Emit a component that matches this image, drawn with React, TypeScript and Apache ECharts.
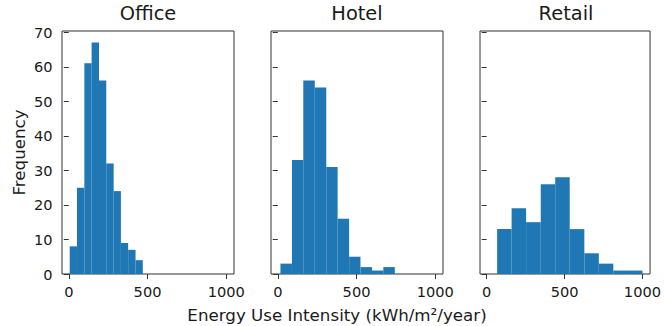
import React, { useEffect, useRef } from "react";
import * as echarts from "echarts";

const panels = ["Office", "Hotel", "Retail"];
const officeEdges = [6, 52, 99, 145, 192, 238, 285, 331, 377, 424, 470];
const officeCounts = [8, 25, 61, 67, 56, 32, 24, 9, 7, 4];
const hotelEdges = [17, 90, 162, 235, 308, 380, 453, 525, 598, 670, 743];
const hotelCounts = [3, 33, 56, 54, 31, 16, 5, 2, 1, 2];
const retailEdges = [67, 160, 253, 347, 440, 533, 627, 720, 813, 907, 1000];
const retailCounts = [13, 19, 15, 26, 28, 13, 6, 3, 1, 1];
const xTicks = [0, 500, 1000];
const yTicks = [0, 10, 20, 30, 40, 50, 60, 70];
const xLabel = "Energy Use Intensity (kWh/m²/year)";
const yLabel = "Frequency";

const FONT = "DejaVu Sans";
const TXT = "#1a1a1a";
const SPINE = "#333";
const BAR = "#1f77b4";

export default function App() {
  const ref = useRef<HTMLDivElement>(null);
  useEffect(() => {
    if (!ref.current) return;
    const chart = echarts.init(ref.current, null, { renderer: "svg" });
    const edgesList = [officeEdges, hotelEdges, retailEdges];
    const countsList = [officeCounts, hotelCounts, retailCounts];
    const lefts = [62, 271, 480];
    const gw = 172;
    const top = 31;
    const gh = 243;

    const grids = lefts.map((l) => ({
      left: l,
      top,
      width: gw,
      height: gh,
      show: true,
      borderColor: SPINE,
      borderWidth: 1,
      backgroundColor: "transparent",
      containLabel: false,
    }));

    const xAxes = lefts.map((_, i) => ({
      type: "value",
      gridIndex: i,
      min: -43,
      max: 1049,
      axisLine: { show: false },
      splitLine: { show: false },
      axisTick: {
        show: true,
        length: 5,
        customValues: xTicks,
        lineStyle: { color: SPINE, width: 1 },
      },
      axisLabel: {
        customValues: xTicks,
        formatter: (v: number) => String(v),
        margin: 9.5,
        fontFamily: FONT,
        fontSize: 14.6,
        color: TXT,
      },
    }));

    const yAxes = lefts.map((_, i) => ({
      type: "value",
      gridIndex: i,
      min: 0,
      max: 70.35,
      axisLine: { show: false },
      splitLine: { show: false },
      axisTick: {
        show: true,
        length: 5,
        customValues: yTicks,
        lineStyle: { color: SPINE, width: 1 },
      },
      axisLabel: {
        show: i === 0,
        customValues: yTicks,
        formatter: (v: number) => String(v),
        margin: 9.5,
        fontFamily: FONT,
        fontSize: 14.6,
        color: TXT,
      },
      name: i === 0 ? yLabel : "",
      nameLocation: "middle",
      nameGap: 35,
      nameTextStyle: { fontFamily: FONT, fontSize: 16.7, color: TXT },
    }));

    const series = panels.map((name, i) => ({
      type: "custom",
      name,
      xAxisIndex: i,
      yAxisIndex: i,
      encode: { x: [0, 1], y: 2 },
      data: countsList[i].map((c, k) => [edgesList[i][k], edgesList[i][k + 1], c]),
      renderItem: (params: any, api: any) => {
        const p0 = api.coord([api.value(0), api.value(2)]);
        const p1 = api.coord([api.value(1), 0]);
        return {
          type: "rect",
          shape: { x: p0[0], y: p0[1], width: p1[0] - p0[0], height: p1[1] - p0[1] },
          style: { fill: BAR },
        };
      },
    }));

    const graphic: any[] = panels.map((name, i) => ({
      type: "text",
      x: lefts[i] + gw / 2,
      y: 13.7,
      style: {
        text: name,
        font: `19.4px "${FONT}"`,
        fill: TXT,
        textAlign: "center",
        textVerticalAlign: "middle",
      },
    }));
    graphic.push({
      type: "text",
      x: 337,
      y: 315.3,
      style: {
        text: xLabel,
        font: `16.7px "${FONT}"`,
        fill: TXT,
        textAlign: "center",
        textVerticalAlign: "middle",
      },
    });

    chart.setOption({
      animation: false,
      grid: grids,
      xAxis: xAxes,
      yAxis: yAxes,
      series,
      graphic,
    } as any);
    return () => chart.dispose();
  }, []);
  return (
    <div
      ref={ref}
      style={{ position: "fixed", left: 0, top: 0, width: 664, height: 326, background: "#fff" }}
    />
  );
}
